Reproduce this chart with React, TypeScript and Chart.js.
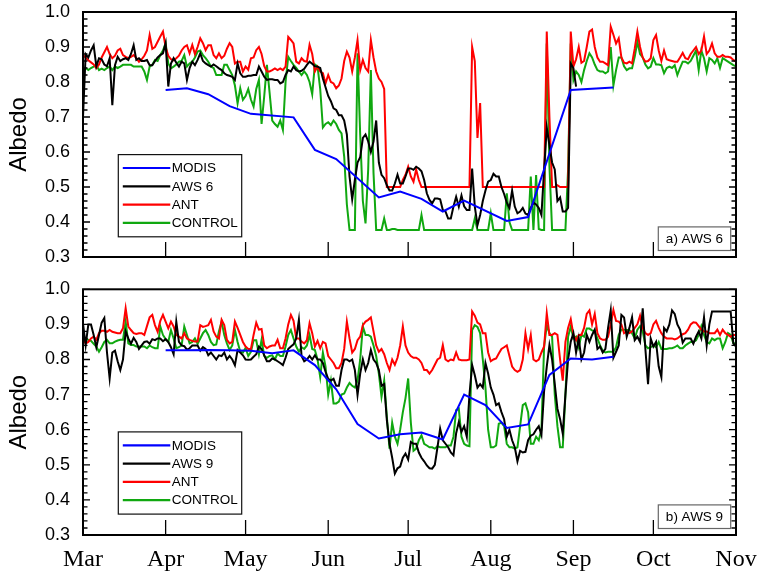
import React, { useEffect, useRef } from "react";
import { Chart, registerables } from "chart.js";

Chart.register(...registerables);

// ---- axes ----
const MONTH_LABELS = ["Mar", "Apr", "May", "Jun", "Jul", "Aug", "Sep", "Oct", "Nov"];
const MONTH_DAYS = [0, 31, 61, 92, 122, 153, 184, 214, 245]; // days since 1 March
const Y_TICKS = [0.3, 0.4, 0.5, 0.6, 0.7, 0.8, 0.9, 1.0];
const SERIES_NAMES_6 = ["MODIS", "AWS 6", "ANT", "CONTROL"];
const SERIES_NAMES_9 = ["MODIS", "AWS 9", "ANT", "CONTROL"];
const PANEL_LABELS = ["a) AWS 6", "b) AWS 9"];

// ---- panel a) AWS 6 ----
const MODIS6_DAYS = [31, 39, 47, 55, 63, 79, 87, 95, 111, 119, 127, 135, 143, 159, 167, 183, 199];
const MODIS6 = [0.777, 0.782, 0.765, 0.731, 0.709, 0.699, 0.606, 0.58, 0.47, 0.487, 0.466, 0.43, 0.461, 0.403, 0.414, 0.777, 0.784];

const AWS6 = [
  0.70, 0.88, 0.87, 0.89, 0.905, 0.845, 0.868, 0.865, 0.85, 0.845,
  0.868, 0.734, 0.848, 0.872, 0.86, 0.865, 0.868, 0.863, 0.88, 0.905,
  0.863, 0.868, 0.86, 0.86, 0.863, 0.848, 0.848, 0.86, 0.87, 0.877,
  0.882, 0.911, 0.787, 0.853, 0.868, 0.855, 0.844, 0.858, 0.853, 0.806,
  0.84, 0.858, 0.848, 0.863, 0.882, 0.86, 0.853, 0.848, 0.844, 0.85,
  0.845, 0.839, 0.834, 0.825, 0.82, 0.818, 0.815, 0.806, 0.853, 0.825,
  0.815, 0.815, 0.818, 0.818, 0.82, 0.82, 0.844, 0.83, 0.815, 0.806,
  0.808, 0.808, 0.806, 0.806, 0.796, 0.80, 0.82, 0.834, 0.83, 0.844,
  0.834, 0.83, 0.832, 0.838, 0.849, 0.858, 0.852, 0.845, 0.844, 0.84,
  0.81, 0.785, 0.76, 0.745, 0.725, 0.72, 0.705, 0.705, 0.69, 0.65,
  0.53, 0.465, 0.52, 0.57, 0.585, 0.64, 0.65, 0.63, 0.60, 0.63,
  0.69, 0.57, 0.535, 0.525, 0.505, 0.49, 0.49, 0.51, 0.535, 0.51,
  0.51, 0.53, 0.553, 0.553, 0.549, 0.558, 0.553, 0.545, 0.52, 0.482,
  0.463, 0.453, 0.467, 0.467, 0.465, 0.434, 0.43, 0.41, 0.41, 0.444,
  0.472, 0.444, 0.476, 0.445, 0.434, 0.434, 0.553, 0.444, 0.391, 0.42,
  0.46, 0.49, 0.515, 0.52, 0.538, 0.53, 0.53, 0.50, 0.48, 0.455,
  0.44, 0.49, 0.444, 0.425, 0.43, 0.44, 0.424, 0.42, 0.44, 0.455,
  0.45, 0.44, 0.42, 0.55, 0.67, 0.62, 0.57, 0.55, 0.46, 0.47,
  0.43, 0.43, 0.44, 0.853, 0.84, 0.787, null, null, null, null,
  null, null, null, null, null, null, null, null, null, null,
  null, null, null, null, null, null, null, null, null, null,
  null, null, null, null, null, null, null, null, null, null,
  null, null, null, null, null, null, null, null, null, null,
  null, null, null, null, null, null, null, null, null, null,
  null, null, null, null, null, null,
];

const ANT6 = [
  0.877, 0.87, 0.862, 0.856, 0.85, 0.84, 0.85, 0.87, 0.885, 0.90,
  0.88, 0.868, 0.875, 0.89, 0.895, 0.877, 0.872, 0.868, 0.872, 0.877,
  0.868, 0.858, 0.865, 0.875, 0.89, 0.934, 0.895, 0.90, 0.915, 0.93,
  0.944, 0.90, 0.875, 0.865, 0.862, 0.868, 0.875, 0.89, 0.90, 0.905,
  0.882, 0.906, 0.88, 0.90, 0.925, 0.911, 0.891, 0.905, 0.905, 0.877,
  0.868, 0.882, 0.868, 0.875, 0.895, 0.911, 0.90, 0.853, 0.858, 0.858,
  0.83, 0.844, 0.835, 0.868, 0.87, 0.891, 0.90, 0.88, 0.845, 0.83,
  0.83, 0.834, 0.839, 0.834, 0.839, 0.834, 0.844, 0.929, 0.92, 0.91,
  0.858, 0.853, 0.868, 0.86, 0.858, 0.906, 0.88, 0.83, 0.844, 0.83,
  0.825, 0.796, 0.82, 0.80, 0.796, 0.782, 0.79, 0.81, 0.86, 0.887,
  0.87, 0.83, 0.87, 0.92, 0.834, 0.863, 0.84, 0.83, 0.92, 0.87,
  0.83, 0.81, 0.80, 0.78, 0.50, 0.50, 0.50, 0.50, 0.50, 0.50,
  0.52, 0.535, 0.558, 0.53, 0.515, 0.55, 0.52, 0.50, 0.50, 0.50,
  0.50, 0.50, 0.50, 0.50, 0.50, 0.50, 0.50, 0.50, 0.50, 0.50,
  0.50, 0.50, 0.50, 0.50, 0.50, 0.50, 0.90, 0.86, 0.64, 0.74,
  0.50, 0.50, 0.50, 0.50, 0.50, 0.50, 0.50, 0.50, 0.50, 0.50,
  0.50, 0.50, 0.50, 0.50, 0.50, 0.50, 0.50, 0.50, 0.50, 0.50,
  0.50, 0.50, 0.50, 0.50, 0.944, 0.70, 0.50, 0.50, 0.505, 0.50,
  0.50, 0.50, 0.50, 0.944, 0.844, 0.865, 0.90, 0.855, 0.86, 0.90,
  0.944, 0.95, 0.90, 0.87, 0.858, 0.858, 0.853, 0.848, 0.958, 0.935,
  0.91, 0.925, 0.87, 0.855, 0.853, 0.858, 0.853, 0.895, 0.944, 0.90,
  0.87, 0.858, 0.86, 0.868, 0.92, 0.934, 0.89, 0.86, 0.89, 0.865,
  0.862, 0.86, 0.858, 0.858, 0.87, 0.883, 0.868, 0.865, 0.88, 0.89,
  0.90, 0.88, 0.89, 0.93, 0.88, 0.89, 0.91, 0.882, 0.872, 0.872,
  0.877, 0.872, 0.872, 0.87, 0.863, 0.858,
];

const CONTROL6 = [
  0.834, 0.84, 0.834, 0.84, 0.844, 0.849, 0.834, 0.838, 0.834, 0.84,
  0.844, 0.834, 0.844, 0.84, 0.844, 0.849, 0.849, 0.849, 0.849, 0.844,
  0.844, 0.844, 0.844, 0.83, 0.806, 0.844, 0.849, 0.863, 0.86, 0.877,
  0.89, 0.911, 0.853, 0.839, 0.844, 0.85, 0.858, 0.86, 0.877, 0.844,
  0.853, 0.858, 0.87, 0.887, 0.89, 0.877, 0.868, 0.858, 0.844, 0.84,
  0.82, 0.82, 0.82, 0.849, 0.849, 0.834, 0.82, 0.79, 0.739, 0.782,
  0.749, 0.76, 0.78, 0.75, 0.73, 0.78, 0.806, 0.68, 0.76, 0.849,
  0.77, 0.69, 0.68, 0.672, 0.69, 0.663, 0.80, 0.872, 0.86, 0.849,
  0.84, 0.83, 0.82, 0.83, 0.82, 0.80, 0.765, 0.85, 0.844, 0.78,
  0.67, 0.68, 0.685, 0.677, 0.69, 0.68, 0.663, 0.653, 0.587, 0.45,
  0.377, 0.377, 0.377, 0.882, 0.65, 0.46, 0.396, 0.55, 0.834, 0.54,
  0.377, 0.377, 0.377, 0.41, 0.377, 0.377, 0.38, 0.38, 0.377, 0.377,
  0.377, 0.377, 0.377, 0.377, 0.377, 0.377, 0.377, 0.42, 0.377, 0.377,
  0.377, 0.377, 0.377, 0.377, 0.377, 0.377, 0.377, 0.377, 0.377, 0.377,
  0.377, 0.377, 0.377, 0.377, 0.377, 0.377, 0.377, 0.41, 0.377, 0.377,
  0.377, 0.377, 0.377, 0.425, 0.377, 0.377, 0.377, 0.377, 0.377, 0.482,
  0.40, 0.377, 0.377, 0.377, 0.377, 0.377, 0.377, 0.377, 0.53, 0.377,
  0.534, 0.38, 0.377, 0.377, 0.91, 0.56, 0.377, 0.377, 0.377, 0.377,
  0.377, 0.377, 0.55, 0.91, 0.806, 0.83, 0.82, 0.80, 0.834, 0.86,
  0.882, 0.87, 0.85, 0.834, 0.83, 0.83, 0.825, 0.83, 0.90, 0.79,
  0.834, 0.87, 0.87, 0.845, 0.834, 0.839, 0.839, 0.872, 0.915, 0.88,
  0.87, 0.85, 0.839, 0.844, 0.868, 0.85, 0.85, 0.848, 0.825, 0.84,
  0.844, 0.84, 0.848, 0.82, 0.84, 0.858, 0.858, 0.853, 0.86, 0.875,
  0.89, 0.834, 0.89, 0.868, 0.83, 0.868, 0.863, 0.853, 0.868, 0.84,
  0.868, 0.863, 0.858, 0.853, 0.848, 0.845,
];

// ---- panel b) AWS 9 ----
const MODIS9_DAYS = [31, 39, 47, 55, 63, 71, 79, 87, 95, 103, 111, 119, 127, 135, 143, 151, 159, 167, 175, 183, 191, 199];
const MODIS9 = [0.826, 0.826, 0.827, 0.826, 0.825, 0.818, 0.826, 0.784, 0.715, 0.616, 0.575, 0.587, 0.592, 0.572, 0.70, 0.67, 0.605, 0.615, 0.756, 0.803, 0.80, 0.808];

const AWS9 = [
  0.903, 0.84, 0.90, 0.90, 0.87, 0.835, 0.87, 0.905, 0.918, 0.82,
  0.746, 0.82, 0.825, 0.795, 0.77, 0.80, 0.88, 0.86, 0.845, 0.862,
  0.85, 0.83, 0.84, 0.85, 0.852, 0.845, 0.858, 0.855, 0.86, 0.86,
  0.852, 0.858, 0.85, 0.835, 0.815, 0.908, 0.85, 0.84, 0.838, 0.828,
  0.832, 0.84, 0.84, 0.84, 0.825, 0.835, 0.83, 0.812, 0.82, 0.81,
  0.80, 0.812, 0.81, 0.82, 0.80, 0.81, 0.80, 0.784, 0.827, 0.82,
  0.812, 0.80, 0.799, 0.80, 0.808, 0.815, 0.837, 0.83, 0.812, 0.795,
  0.795, 0.803, 0.80, 0.795, 0.79, 0.784, 0.805, 0.83, 0.837, 0.843,
  0.86, 0.913, 0.81, 0.795, 0.80, 0.81, 0.80, 0.812, 0.80, 0.80,
  0.79, 0.765, 0.745, 0.74, 0.745, 0.725, 0.725, 0.77, 0.80, 0.80,
  0.795, 0.80, 0.77, 0.699, 0.76, 0.80, 0.77, 0.79, 0.827, 0.80,
  0.79, 0.77, 0.725, 0.73, 0.627, 0.56, 0.52, 0.475, 0.49, 0.495,
  0.52, 0.532, 0.515, 0.565, 0.56, 0.56, 0.535, 0.52, 0.51, 0.498,
  0.49, 0.489, 0.50, 0.55, 0.603, 0.57, 0.56, 0.55, 0.535, 0.527,
  0.59, 0.622, 0.594, 0.61, 0.58, 0.70, 0.784, 0.755, 0.72, 0.73,
  0.72, 0.79, 0.76, 0.72, 0.70, 0.67, 0.675, 0.65, 0.63, 0.58,
  0.60, 0.57, 0.55, 0.51, 0.54, 0.535, 0.537, 0.57, 0.583, 0.587,
  0.60, 0.61, 0.585, 0.71, 0.78, 0.841, 0.80, 0.73, 0.66, 0.63,
  0.589, 0.70, 0.80, 0.851, 0.875, 0.82, 0.86, 0.80, 0.82, 0.87,
  0.85, 0.87, 0.885, 0.83, 0.837, 0.82, 0.83, 0.89, 0.94, 0.805,
  0.822, 0.84, 0.927, 0.92, 0.865, 0.89, 0.92, 0.855, 0.865, 0.85,
  0.946, 0.83, 0.73, 0.86, 0.837, 0.85, 0.78, 0.75, 0.89, 0.88,
  0.90, 0.94, 0.93, 0.90, 0.885, 0.848, 0.86, 0.86, 0.86, 0.845,
  0.865, 0.88, 0.86, 0.92, 0.84, 0.90, 0.937, 0.937, 0.937, 0.937,
  0.937, 0.937, 0.937, 0.937, 0.846, 0.837,
];

const ANT9 = [
  0.856, 0.846, 0.85, 0.86, 0.865, 0.856, 0.875, 0.882, 0.882, 0.879,
  0.884, 0.879, 0.877, 0.875, 0.875, 0.889, 0.946, 0.894, 0.884, 0.875,
  0.873, 0.875, 0.875, 0.87, 0.895, 0.92, 0.927, 0.898, 0.879, 0.91,
  0.927, 0.908, 0.889, 0.908, 0.894, 0.87, 0.865, 0.86, 0.875, 0.86,
  0.856, 0.853, 0.851, 0.851, 0.898, 0.893, 0.895, 0.898, 0.913, 0.88,
  0.865, 0.86, 0.913, 0.898, 0.856, 0.846, 0.85, 0.908, 0.89, 0.87,
  0.85, 0.837, 0.83, 0.83, 0.87, 0.905, 0.885, 0.887, 0.84, 0.832,
  0.837, 0.84, 0.84, 0.856, 0.832, 0.832, 0.86, 0.90, 0.927, 0.91,
  0.86, 0.86, 0.851, 0.846, 0.855, 0.903, 0.875, 0.837, 0.853, 0.832,
  0.85, 0.846, 0.81, 0.80, 0.79, 0.775, 0.775, 0.79, 0.83, 0.908,
  0.86, 0.82, 0.83, 0.855, 0.865, 0.898, 0.908, 0.913, 0.92, 0.88,
  0.84, 0.822, 0.83, 0.815, 0.79, 0.77, 0.80, 0.785, 0.805, 0.84,
  0.894, 0.84, 0.82, 0.81, 0.805, 0.805, 0.80, 0.79, 0.77, 0.77,
  0.76, 0.77, 0.785, 0.80, 0.805, 0.841, 0.80, 0.795, 0.80, 0.798,
  0.82, 0.80, 0.798, 0.798, 0.798, 0.80, 0.937, 0.925, 0.905, 0.90,
  0.875, 0.875, 0.82, 0.795, 0.80, 0.803, 0.817, 0.83, 0.835, 0.84,
  0.81, 0.78, 0.77, 0.765, 0.77, 0.80, 0.875, 0.83, 0.87, 0.80,
  0.795, 0.80, 0.82, 0.837, 0.932, 0.87, 0.87, 0.875, 0.87, 0.80,
  0.74, 0.85, 0.89, 0.915, 0.87, 0.855, 0.87, 0.87, 0.89, 0.93,
  0.94, 0.90, 0.93, 0.875, 0.86, 0.856, 0.856, 0.865, 0.90, 0.941,
  0.91, 0.908, 0.90, 0.875, 0.88, 0.875, 0.88, 0.89, 0.90, 0.925,
  0.89, 0.875, 0.87, 0.875, 0.90, 0.91, 0.89, 0.875, 0.865, 0.86,
  0.86, 0.86, 0.857, 0.86, 0.866, 0.872, 0.875, 0.885, 0.90, 0.906,
  0.905, 0.895, 0.885, 0.88, 0.88, 0.875, 0.875, 0.875, 0.885, 0.87,
  0.885, 0.875, 0.87, 0.865, 0.87, 0.87,
];

const CONTROL9 = [
  0.851, 0.86, 0.856, 0.853, 0.845, 0.837, 0.822, 0.835, 0.85, 0.856,
  0.846, 0.846, 0.851, 0.854, 0.856, 0.856, 0.908, 0.846, 0.841, 0.841,
  0.837, 0.837, 0.837, 0.837, 0.832, 0.84, 0.835, 0.832, 0.832, 0.894,
  0.87, 0.858, 0.85, 0.884, 0.86, 0.832, 0.835, 0.84, 0.894, 0.87,
  0.846, 0.85, 0.86, 0.845, 0.86, 0.875, 0.884, 0.87, 0.85, 0.841,
  0.843, 0.88, 0.908, 0.87, 0.846, 0.827, 0.84, 0.884, 0.85, 0.822,
  0.82, 0.833, 0.81, 0.822, 0.855, 0.855, 0.815, 0.856, 0.81, 0.805,
  0.81, 0.812, 0.80, 0.817, 0.81, 0.81, 0.837, 0.87, 0.884, 0.86,
  0.837, 0.822, 0.835, 0.83, 0.84, 0.87, 0.83, 0.827, 0.80, 0.75,
  0.82, 0.78, 0.70, 0.74, 0.675, 0.675, 0.68, 0.70, 0.703, 0.72,
  0.733, 0.725, 0.72, 0.74, 0.80, 0.894, 0.87, 0.87, 0.865, 0.84,
  0.81, 0.76, 0.694, 0.74, 0.637, 0.546, 0.62, 0.58, 0.56, 0.60,
  0.65, 0.69, 0.746, 0.62, 0.54, 0.546, 0.57, 0.584, 0.56, 0.555,
  0.55, 0.55, 0.546, 0.553, 0.55, 0.55, 0.55, 0.555, 0.555, 0.58,
  0.656, 0.66, 0.58, 0.56, 0.555, 0.553, 0.884, 0.898, 0.893, 0.875,
  0.80, 0.72, 0.60, 0.55, 0.55, 0.555, 0.617, 0.62, 0.61, 0.56,
  0.55, 0.55, 0.546, 0.55, 0.61, 0.67, 0.675, 0.65, 0.56, 0.56,
  0.58, 0.57, 0.60, 0.837, 0.898, 0.875, 0.865, 0.70, 0.61, 0.55,
  0.55, 0.70, 0.865, 0.894, 0.86, 0.865, 0.835, 0.87, 0.865, 0.888,
  0.888, 0.883, 0.88, 0.86, 0.84, 0.825, 0.82, 0.822, 0.822, 0.822,
  0.835, 0.87, 0.885, 0.885, 0.884, 0.884, 0.875, 0.86, 0.885, 0.895,
  0.88, 0.84, 0.832, 0.835, 0.84, 0.835, 0.85, 0.83, 0.83, 0.83,
  0.832, 0.832, 0.835, 0.84, 0.832, 0.832, 0.84, 0.845, 0.85, 0.85,
  0.855, 0.87, 0.895, 0.87, 0.85, 0.846, 0.86, 0.855, 0.86, 0.86,
  0.832, 0.85, 0.875, 0.87, 0.846, 0.846,
];

const COLORS = ["#0000ff", "#000000", "#ff0000", "#10a810"];
const SANS = '"Liberation Sans", Arial, Helvetica, sans-serif';
const SERIF = '"Liberation Serif", "Times New Roman", serif';

const daily = (vals: (number | null)[]) => vals.map((v, i) => ({ x: i, y: v }));
const sparse = (days: number[], vals: number[]) => days.map((d, i) => ({ x: d, y: vals[i] }));

const decorPlugin = {
  id: "decor",
  afterDatasetsDraw(chart: any, _args: any, opts: any) {
    const ctx = chart.ctx as CanvasRenderingContext2D;
    const ca = chart.chartArea;
    const xs = chart.scales.x;
    const ys = chart.scales.y;
    ctx.save();

    // legend box
    const bx = ca.left + 35.3, by = ca.top + 142.6, bw = 123.4, bh = 82.2;
    ctx.fillStyle = "#fff";
    ctx.fillRect(bx, by, bw, bh);
    ctx.strokeStyle = "#111";
    ctx.lineWidth = 1.2;
    ctx.strokeRect(bx, by, bw, bh);
    ctx.font = `13.5px ${SANS}`;
    ctx.textBaseline = "middle";
    ctx.textAlign = "left";
    chart.data.datasets.forEach((ds: any, i: number) => {
      const y = by + 13.4 + i * 18.3;
      ctx.strokeStyle = ds.borderColor;
      ctx.lineWidth = 2.2;
      ctx.beginPath();
      ctx.moveTo(bx + 4.5, y);
      ctx.lineTo(bx + 52, y);
      ctx.stroke();
      ctx.fillStyle = "#000";
      ctx.fillText(ds.label, bx + 53.5, y + 0.5);
    });

    // panel label box
    const pw = 72.4, ph = 23.6;
    const px = ca.right - 5.3 - pw, py = ca.bottom - 6.5 - ph;
    ctx.fillStyle = "#fff";
    ctx.fillRect(px, py, pw, ph);
    ctx.strokeStyle = "#666";
    ctx.lineWidth = 1.2;
    ctx.strokeRect(px, py, pw, ph);
    ctx.fillStyle = "#000";
    ctx.textAlign = "center";
    ctx.fillText(opts.label, px + pw / 2, py + ph / 2 + 0.5);

    // ticks
    ctx.strokeStyle = "#000";
    ctx.lineWidth = 1.3;
    ctx.beginPath();
    for (let k = 0; k <= 35; k++) {
      const v = ys.min + k * 0.02;
      const y = ys.getPixelForValue(v);
      const len = k % 5 === 0 ? 7 : 4.5;
      ctx.moveTo(ca.left, y);
      ctx.lineTo(ca.left + len, y);
      ctx.moveTo(ca.right, y);
      ctx.lineTo(ca.right - len, y);
    }
    xs.ticks.forEach((t: any) => {
      const x = xs.getPixelForValue(t.value);
      ctx.moveTo(x, ca.bottom);
      ctx.lineTo(x, ca.bottom - 15);
    });
    ctx.stroke();

    // frame
    ctx.lineWidth = 2;
    ctx.strokeRect(ca.left, ca.top, ca.right - ca.left, ca.bottom - ca.top);
    ctx.restore();
  },
};

function makeConfig(datasets: any[], label: string, padTop: number, xHeight: number, showX: boolean): any {
  return {
    type: "line",
    data: {
      datasets: datasets.map((d, i) => ({
        label: d.label,
        data: d.data,
        borderColor: COLORS[i],
        backgroundColor: COLORS[i],
        borderWidth: 2,
        pointRadius: 0,
        fill: false,
        tension: 0,
        spanGaps: false,
      })),
    },
    options: {
      responsive: false,
      maintainAspectRatio: false,
      animation: false,
      events: [],
      layout: { padding: { left: 0, right: 23, top: padTop, bottom: 0 } },
      plugins: {
        legend: { display: false },
        tooltip: { enabled: false },
        decor: { label },
      },
      scales: {
        x: {
          type: "linear",
          min: 0,
          max: 245,
          grid: { display: false, drawTicks: false },
          border: { display: false },
          afterBuildTicks: (s: any) => {
            s.ticks = MONTH_DAYS.map((v) => ({ value: v }));
          },
          afterFit: (s: any) => {
            s.height = xHeight;
            s.paddingLeft = 0;
            s.paddingRight = 0;
          },
          ticks: {
            display: showX,
            autoSkip: false,
            maxRotation: 0,
            padding: 10,
            color: "#000",
            font: { family: SERIF, size: 24 },
            callback: (_v: any, idx: number) => MONTH_LABELS[idx],
          },
        },
        y: {
          type: "linear",
          min: 0.3,
          max: 1.0,
          grid: { display: false, drawTicks: false },
          border: { display: false },
          afterBuildTicks: (s: any) => {
            s.ticks = Y_TICKS.map((v) => ({ value: v }));
          },
          afterFit: (s: any) => {
            s.width = 83;
            s.paddingTop = 0;
            s.paddingBottom = 0;
          },
          ticks: {
            padding: 13,
            color: "#000",
            font: { family: SANS, size: 18 },
            callback: (v: any) => Number(v).toFixed(1),
          },
          title: {
            display: true,
            text: "Albedo",
            color: "#000",
            font: { family: SANS, size: 24 },
            padding: { top: 5, bottom: 0 },
          },
        },
      },
    },
    plugins: [decorPlugin],
  };
}

export default function App() {
  const topRef = useRef<HTMLCanvasElement | null>(null);
  const botRef = useRef<HTMLCanvasElement | null>(null);

  useEffect(() => {
    const top = new Chart(
      topRef.current as HTMLCanvasElement,
      makeConfig(
        [
          { label: SERIES_NAMES_6[0], data: sparse(MODIS6_DAYS, MODIS6) },
          { label: SERIES_NAMES_6[1], data: daily(AWS6) },
          { label: SERIES_NAMES_6[2], data: daily(ANT6) },
          { label: SERIES_NAMES_6[3], data: daily(CONTROL6) },
        ],
        PANEL_LABELS[0],
        12,
        13,
        false
      )
    );
    const bot = new Chart(
      botRef.current as HTMLCanvasElement,
      makeConfig(
        [
          { label: SERIES_NAMES_9[0], data: sparse(MODIS9_DAYS, MODIS9) },
          { label: SERIES_NAMES_9[1], data: daily(AWS9) },
          { label: SERIES_NAMES_9[2], data: daily(ANT9) },
          { label: SERIES_NAMES_9[3], data: daily(CONTROL9) },
        ],
        PANEL_LABELS[1],
        19.3,
        40,
        true
      )
    );
    return () => {
      top.destroy();
      bot.destroy();
    };
  }, []);

  return (
    <div style={{ position: "absolute", left: 0, top: 0, width: 759, height: 575, background: "#fff" }}>
      <canvas
        ref={topRef}
        width={759}
        height={270}
        style={{ position: "absolute", left: 0, top: 0, width: 759, height: 270, display: "block" }}
      />
      <canvas
        ref={botRef}
        width={759}
        height={305}
        style={{ position: "absolute", left: 0, top: 270, width: 759, height: 305, display: "block" }}
      />
    </div>
  );
}
